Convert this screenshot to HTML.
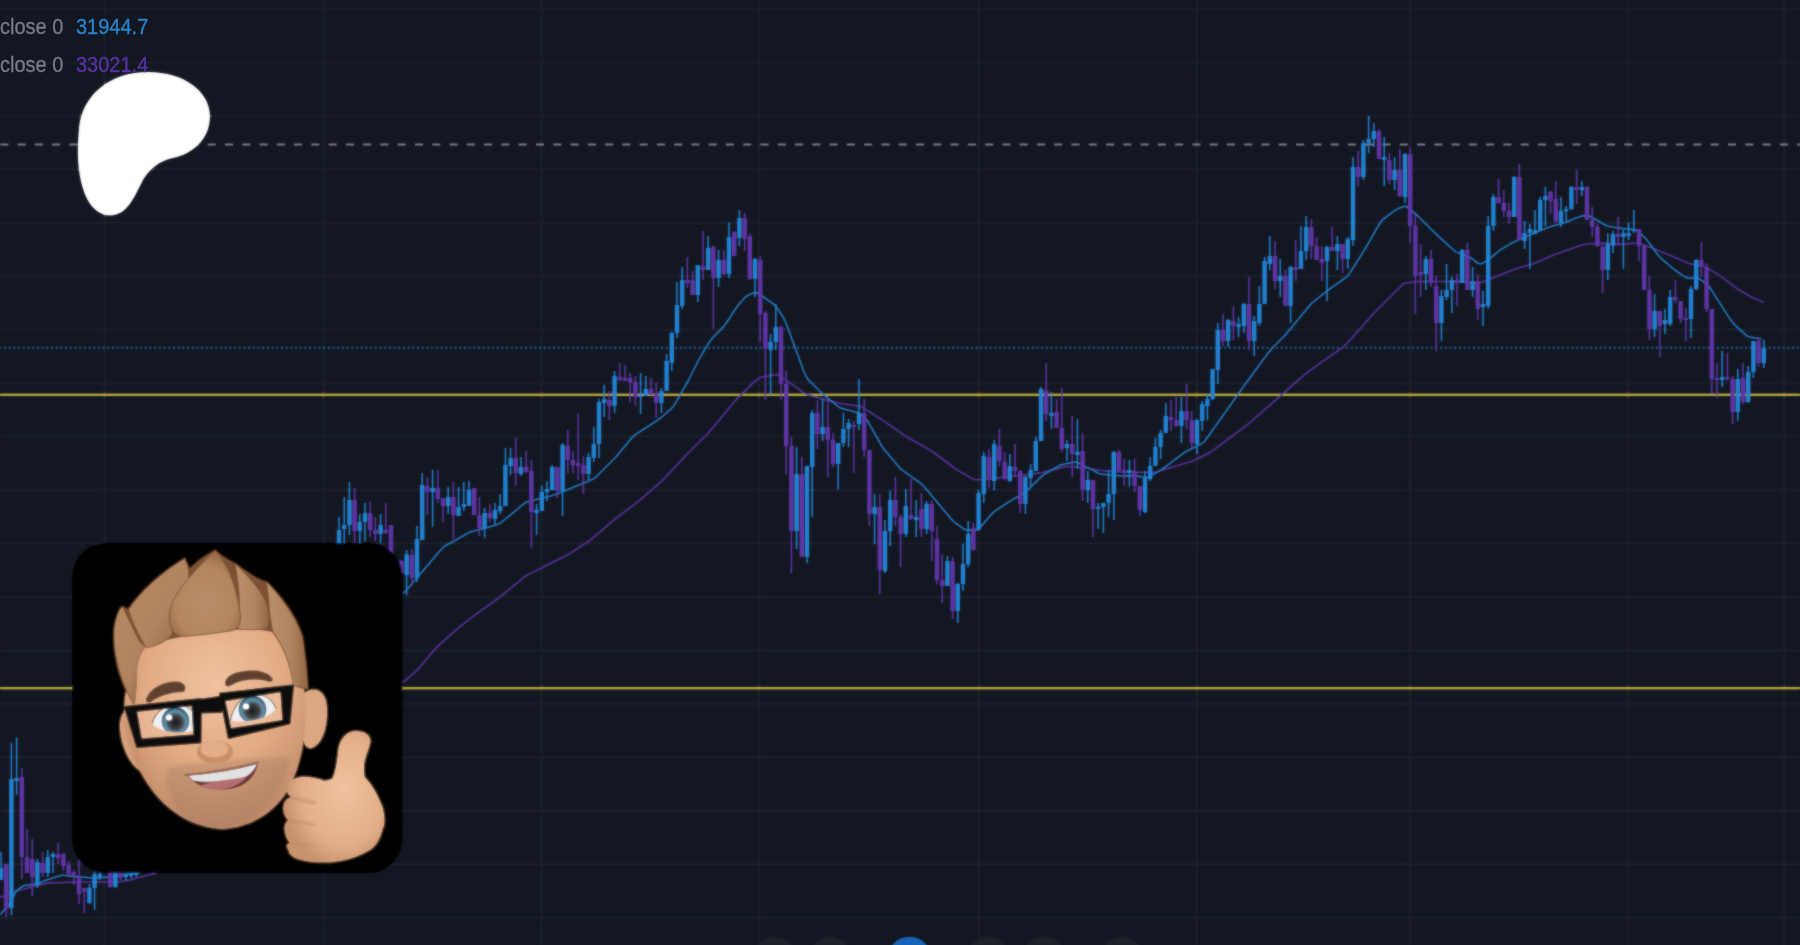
<!DOCTYPE html>
<html><head><meta charset="utf-8"><style>
html,body{margin:0;padding:0;background:#131722;width:1800px;height:945px;overflow:hidden}
.t{position:absolute;font-family:"Liberation Sans",sans-serif;font-size:20px;white-space:pre;transform:scaleY(1.08);transform-origin:0 0;-webkit-text-stroke:0.3px currentColor}
svg{position:absolute;left:0;top:0;}
</style></head><body>
<svg width="1800" height="945" viewBox="0 0 1800 945">
<filter id="soft" x="0" y="0" width="100%" height="100%"><feGaussianBlur in="SourceGraphic" stdDeviation="0.8" result="b"/><feComposite in="SourceGraphic" in2="b" operator="arithmetic" k1="0" k2="0.45" k3="0.55" k4="0"/></filter>
<g filter="url(#soft)">
<rect x="0" y="8.25" width="1800" height="1.5" fill="#1e212c"/>
<rect x="0" y="61.70" width="1800" height="1.5" fill="#1e212c"/>
<rect x="0" y="115.15" width="1800" height="1.5" fill="#1e212c"/>
<rect x="0" y="168.60" width="1800" height="1.5" fill="#1e212c"/>
<rect x="0" y="222.05" width="1800" height="1.5" fill="#1e212c"/>
<rect x="0" y="275.50" width="1800" height="1.5" fill="#1e212c"/>
<rect x="0" y="328.95" width="1800" height="1.5" fill="#1e212c"/>
<rect x="0" y="382.40" width="1800" height="1.5" fill="#1e212c"/>
<rect x="0" y="435.85" width="1800" height="1.5" fill="#1e212c"/>
<rect x="0" y="489.30" width="1800" height="1.5" fill="#1e212c"/>
<rect x="0" y="542.75" width="1800" height="1.5" fill="#1e212c"/>
<rect x="0" y="596.20" width="1800" height="1.5" fill="#1e212c"/>
<rect x="0" y="649.65" width="1800" height="1.5" fill="#1e212c"/>
<rect x="0" y="703.10" width="1800" height="1.5" fill="#1e212c"/>
<rect x="0" y="756.55" width="1800" height="1.5" fill="#1e212c"/>
<rect x="0" y="810.00" width="1800" height="1.5" fill="#1e212c"/>
<rect x="0" y="863.45" width="1800" height="1.5" fill="#1e212c"/>
<rect x="0" y="916.90" width="1800" height="1.5" fill="#1e212c"/>
<rect x="103.75" y="0" width="1.5" height="945" fill="#1e212c"/>
<rect x="322.75" y="0" width="1.5" height="945" fill="#1e212c"/>
<rect x="540.75" y="0" width="1.5" height="945" fill="#1e212c"/>
<rect x="758.25" y="0" width="1.5" height="945" fill="#1e212c"/>
<rect x="977.95" y="0" width="1.5" height="945" fill="#1e212c"/>
<rect x="1195.95" y="0" width="1.5" height="945" fill="#1e212c"/>
<rect x="1409.45" y="0" width="1.5" height="945" fill="#1e212c"/>
<rect x="1627.15" y="0" width="1.5" height="945" fill="#1e212c"/>
<rect x="1783.35" y="0" width="1.5" height="945" fill="#1e212c"/>
<line x1="0" y1="144.6" x2="1800" y2="144.6" stroke="#7b7e88" stroke-width="2" stroke-dasharray="8 9.276" stroke-dashoffset="-0.4"/>
<line x1="0" y1="347.8" x2="1800" y2="347.8" stroke="#1f5c9a" stroke-width="2" stroke-dasharray="2 2.693" stroke-dashoffset="0.67"/>
<rect x="0" y="393.6" width="1800" height="2.4" fill="#b9a838"/>
<rect x="0" y="687" width="1800" height="2.4" fill="#b9a838"/>
<path d="M0.0 897.2 L2.0 896.5 L4.0 895.7 L6.0 894.9 L8.0 894.0 L10.0 893.2 L12.0 892.4 L14.0 891.6 L16.0 891.0 L18.0 890.5 L20.0 890.0 L22.0 889.5 L24.0 889.0 L26.0 888.4 L28.0 887.9 L30.0 887.4 L32.0 886.9 L34.0 886.4 L36.0 885.9 L38.0 885.4 L40.0 884.9 L42.0 884.4 L44.0 883.9 L46.0 883.4 L48.0 883.1 L50.0 882.9 L52.0 882.9 L54.0 882.8 L56.0 882.7 L58.0 882.7 L60.0 882.6 L62.0 882.5 L64.0 882.5 L66.0 882.4 L68.0 882.3 L70.0 882.3 L72.0 882.2 L74.0 882.1 L76.0 882.1 L78.0 882.0 L80.0 882.0 L82.0 882.0 L84.0 882.0 L86.0 882.0 L88.0 882.0 L90.0 882.0 L92.0 882.0 L94.0 882.0 L96.0 882.0 L98.0 882.0 L100.0 882.0 L102.0 882.0 L104.0 882.0 L106.0 882.0 L108.0 882.0 L110.0 881.9 L112.0 881.9 L114.0 881.9 L116.0 881.8 L118.0 881.7 L120.0 881.5 L122.0 881.2 L124.0 880.9 L126.0 880.6 L128.0 880.3 L130.0 879.9 L132.0 879.4 L134.0 878.9 L136.0 878.3 L138.0 877.8 L140.0 877.2 L142.0 876.7 L144.0 876.2 L146.0 875.7 L148.0 875.2 L150.0 874.8 L152.0 874.3 L154.0 873.8 L156.0 873.4 M401.8 683.2 L403.8 681.9 L405.8 680.2 L407.8 678.4 L409.8 676.6 L411.8 674.9 L413.8 673.1 L415.8 671.3 L417.8 669.4 L419.8 667.2 L421.8 664.8 L423.8 662.4 L425.8 660.0 L427.8 657.6 L429.8 655.2 L431.8 652.8 L433.8 650.5 L435.8 648.2 L437.8 646.2 L439.8 644.4 L441.8 642.6 L443.8 640.8 L445.8 639.0 L447.8 637.2 L449.8 635.4 L451.8 633.6 L453.8 631.8 L455.8 630.2 L457.8 628.5 L459.8 626.9 L461.8 625.3 L463.8 623.7 L465.8 622.1 L467.8 620.5 L469.8 618.9 L471.8 617.3 L473.8 615.8 L475.8 614.4 L477.8 613.0 L479.8 611.6 L481.8 610.1 L483.8 608.7 L485.8 607.3 L487.8 605.8 L489.8 604.4 L491.8 603.0 L493.8 601.6 L495.8 600.1 L497.8 598.6 L499.8 597.0 L501.8 595.4 L503.8 593.8 L505.8 592.1 L507.8 590.5 L509.8 588.9 L511.8 587.3 L513.8 585.6 L515.8 584.0 L517.8 582.4 L519.8 580.8 L521.8 579.1 L523.8 577.5 L525.8 576.0 L527.8 574.9 L529.8 573.9 L531.8 572.9 L533.8 571.9 L535.8 570.9 L537.8 569.9 L539.8 568.9 L541.8 567.9 L543.8 566.9 L545.8 565.8 L547.8 564.8 L549.8 563.8 L551.8 562.8 L553.8 561.8 L555.8 560.8 L557.8 559.8 L559.8 558.8 L561.8 557.8 L563.8 556.8 L565.8 555.8 L567.8 554.8 L569.8 553.6 L571.8 552.3 L573.8 551.0 L575.8 549.7 L577.8 548.4 L579.8 547.0 L581.8 545.7 L583.8 544.4 L585.8 543.1 L587.8 541.7 L589.8 540.4 L591.8 538.8 L593.8 537.2 L595.8 535.4 L597.8 533.7 L599.8 532.0 L601.8 530.3 L603.8 528.6 L605.8 526.9 L607.8 525.2 L609.8 523.4 L611.8 521.7 L613.8 520.0 L615.8 518.4 L617.8 516.8 L619.8 515.3 L621.8 513.8 L623.8 512.3 L625.8 510.8 L627.8 509.3 L629.8 507.8 L631.8 506.3 L633.8 504.8 L635.8 503.3 L637.8 501.7 L639.8 500.0 L641.8 498.3 L643.8 496.6 L645.8 494.9 L647.8 493.2 L649.8 491.5 L651.8 489.8 L653.8 488.0 L655.8 486.3 L657.8 484.6 L659.8 482.9 L661.8 481.1 L663.8 479.1 L665.8 477.0 L667.8 474.9 L669.8 472.7 L671.8 470.5 L673.8 468.4 L675.8 466.2 L677.8 464.0 L679.8 461.9 L681.8 459.7 L683.8 457.6 L685.8 455.5 L687.8 453.5 L689.8 451.5 L691.8 449.5 L693.8 447.5 L695.8 445.5 L697.8 443.5 L699.8 441.5 L701.8 439.5 L703.8 437.5 L705.8 435.5 L707.8 433.5 L709.8 431.3 L711.8 429.0 L713.8 426.6 L715.8 424.1 L717.8 421.7 L719.8 419.3 L721.8 416.8 L723.8 414.4 L725.8 412.0 L727.8 409.5 L729.8 407.1 L731.8 404.7 L733.8 402.3 L735.8 400.1 L737.8 398.1 L739.8 396.1 L741.8 394.1 L743.8 392.1 L745.8 390.1 L747.8 388.1 L749.8 386.1 L751.8 384.1 L753.8 382.1 L755.8 380.3 L757.8 378.8 L759.8 377.7 L761.8 377.1 L763.8 376.8 L765.8 376.4 L767.8 376.1 L769.8 375.7 L771.8 375.4 L773.8 375.1 L775.8 374.8 L777.8 374.8 L779.8 375.5 L781.8 376.9 L783.8 378.3 L785.8 379.8 L787.8 381.3 L789.8 382.8 L791.8 384.3 L793.8 385.7 L795.8 387.1 L797.8 388.5 L799.8 389.9 L801.8 391.3 L803.8 392.6 L805.8 393.9 L807.8 394.7 L809.8 395.3 L811.8 395.9 L813.8 396.5 L815.8 397.1 L817.8 397.7 L819.8 398.3 L821.8 398.9 L823.8 399.4 L825.8 399.9 L827.8 400.4 L829.8 400.9 L831.8 401.4 L833.8 401.9 L835.8 402.4 L837.8 402.9 L839.8 403.3 L841.8 403.7 L843.8 404.0 L845.8 404.3 L847.8 404.6 L849.8 404.8 L851.8 405.1 L853.8 405.4 L855.8 405.7 L857.8 406.0 L859.8 406.4 L861.8 407.1 L863.8 408.2 L865.8 409.5 L867.8 410.7 L869.8 412.0 L871.8 413.3 L873.8 414.6 L875.8 415.9 L877.8 417.2 L879.8 418.4 L881.8 419.7 L883.8 421.1 L885.8 422.4 L887.8 423.8 L889.8 425.2 L891.8 426.6 L893.8 428.0 L895.8 429.3 L897.8 430.7 L899.8 432.1 L901.8 433.5 L903.8 434.9 L905.8 436.2 L907.8 437.5 L909.8 438.7 L911.8 439.8 L913.8 440.9 L915.8 442.0 L917.8 443.1 L919.8 444.3 L921.8 445.4 L923.8 446.5 L925.8 447.6 L927.8 448.8 L929.8 449.9 L931.8 451.1 L933.8 452.5 L935.8 454.0 L937.8 455.5 L939.8 457.0 L941.8 458.5 L943.8 460.0 L945.8 461.5 L947.8 463.0 L949.8 464.5 L951.8 466.0 L953.8 467.5 L955.8 469.0 L957.8 470.2 L959.8 471.4 L961.8 472.6 L963.8 473.8 L965.8 474.9 L967.8 476.1 L969.8 477.3 L971.8 478.4 L973.8 479.4 L975.8 479.8 L977.8 479.8 L979.8 479.7 L981.8 479.5 L983.8 479.4 L985.8 479.2 L987.8 479.0 L989.8 478.9 L991.8 478.7 L993.8 478.5 L995.8 478.3 L997.8 478.1 L999.8 477.8 L1001.8 477.6 L1003.8 477.4 L1005.8 477.2 L1007.8 476.9 L1009.8 476.7 L1011.8 476.5 L1013.8 476.3 L1015.8 476.1 L1017.8 475.8 L1019.8 475.6 L1021.8 475.3 L1023.8 475.1 L1025.8 474.8 L1027.8 474.5 L1029.8 474.2 L1031.8 474.0 L1033.8 473.7 L1035.8 473.4 L1037.8 473.1 L1039.8 472.8 L1041.8 472.5 L1043.8 472.1 L1045.8 471.6 L1047.8 471.1 L1049.8 470.6 L1051.8 470.1 L1053.8 469.6 L1055.8 469.1 L1057.8 468.6 L1059.8 468.0 L1061.8 467.5 L1063.8 467.0 L1065.8 466.6 L1067.8 466.5 L1069.8 466.6 L1071.8 466.7 L1073.8 466.9 L1075.8 467.0 L1077.8 467.2 L1079.8 467.4 L1081.8 467.5 L1083.8 467.7 L1085.8 467.9 L1087.8 468.3 L1089.8 468.6 L1091.8 469.0 L1093.8 469.3 L1095.8 469.7 L1097.8 470.0 L1099.8 470.3 L1101.8 470.5 L1103.8 470.7 L1105.8 470.9 L1107.8 471.0 L1109.8 471.2 L1111.8 471.4 L1113.8 471.5 L1115.8 471.7 L1117.8 471.8 L1119.8 472.0 L1121.8 472.1 L1123.8 472.2 L1125.8 472.2 L1127.8 472.2 L1129.8 472.2 L1131.8 472.2 L1133.8 472.2 L1135.8 472.2 L1137.8 472.2 L1139.8 472.2 L1141.8 472.2 L1143.8 472.2 L1145.8 472.2 L1147.8 472.2 L1149.8 472.2 L1151.8 472.2 L1153.8 472.2 L1155.8 472.0 L1157.8 471.5 L1159.8 470.9 L1161.8 470.3 L1163.8 469.7 L1165.8 469.1 L1167.8 468.5 L1169.8 467.9 L1171.8 467.3 L1173.8 466.7 L1175.8 466.1 L1177.8 465.5 L1179.8 464.9 L1181.8 464.3 L1183.8 463.7 L1185.8 463.1 L1187.8 462.5 L1189.8 461.9 L1191.8 461.3 L1193.8 460.5 L1195.8 459.5 L1197.8 458.5 L1199.8 457.5 L1201.8 456.5 L1203.8 455.5 L1205.8 454.5 L1207.8 453.5 L1209.8 452.5 L1211.8 451.3 L1213.8 449.9 L1215.8 448.4 L1217.8 446.9 L1219.8 445.4 L1221.8 443.9 L1223.8 442.4 L1225.8 440.9 L1227.8 439.4 L1229.8 437.8 L1231.8 436.3 L1233.8 434.8 L1235.8 433.3 L1237.8 431.8 L1239.8 430.3 L1241.8 428.8 L1243.8 427.3 L1245.8 425.8 L1247.8 424.3 L1249.8 422.6 L1251.8 420.9 L1253.8 419.1 L1255.8 417.4 L1257.8 415.6 L1259.8 413.9 L1261.8 412.1 L1263.8 410.4 L1265.8 408.6 L1267.8 406.9 L1269.8 405.1 L1271.8 403.4 L1273.8 401.6 L1275.8 399.9 L1277.8 398.1 L1279.8 396.4 L1281.8 394.6 L1283.8 392.9 L1285.8 391.1 L1287.8 389.4 L1289.8 387.6 L1291.8 385.9 L1293.8 384.1 L1295.8 382.4 L1297.8 380.6 L1299.8 378.9 L1301.8 377.1 L1303.8 375.4 L1305.8 373.6 L1307.8 372.0 L1309.8 370.5 L1311.8 369.1 L1313.8 367.7 L1315.8 366.3 L1317.8 364.9 L1319.8 363.5 L1321.8 362.1 L1323.8 360.7 L1325.8 359.3 L1327.8 357.9 L1329.8 356.5 L1331.8 355.1 L1333.8 353.7 L1335.8 352.3 L1337.8 350.9 L1339.8 349.5 L1341.8 348.1 L1343.8 346.6 L1345.8 344.6 L1347.8 342.5 L1349.8 340.2 L1351.8 338.0 L1353.8 335.8 L1355.8 333.5 L1357.8 331.3 L1359.8 329.0 L1361.8 326.8 L1363.8 324.5 L1365.8 322.3 L1367.8 320.1 L1369.8 317.8 L1371.8 315.6 L1373.8 313.4 L1375.8 311.3 L1377.8 309.3 L1379.8 307.3 L1381.8 305.3 L1383.8 303.3 L1385.8 301.3 L1387.8 299.3 L1389.8 297.2 L1391.8 295.2 L1393.8 293.2 L1395.8 291.2 L1397.8 289.2 L1399.8 287.2 L1401.8 285.3 L1403.8 283.7 L1405.8 283.1 L1407.8 282.8 L1409.8 282.6 L1411.8 282.3 L1413.8 282.1 L1415.8 281.8 L1417.8 281.6 L1419.8 281.5 L1421.8 281.5 L1423.8 281.5 L1425.8 281.5 L1427.8 281.5 L1429.8 281.5 L1431.8 281.5 L1433.8 281.5 L1435.8 281.5 L1437.8 281.5 L1439.8 281.5 L1441.8 281.5 L1443.8 281.5 L1445.8 281.5 L1447.8 281.5 L1449.8 281.5 L1451.8 281.5 L1453.8 281.6 L1455.8 281.7 L1457.8 281.8 L1459.8 281.9 L1461.8 282.1 L1463.8 282.2 L1465.8 282.3 L1467.8 282.4 L1469.8 282.5 L1471.8 282.6 L1473.8 282.7 L1475.8 282.9 L1477.8 283.0 L1479.8 282.9 L1481.8 282.3 L1483.8 281.5 L1485.8 280.7 L1487.8 279.9 L1489.8 279.1 L1491.8 278.3 L1493.8 277.4 L1495.8 276.6 L1497.8 275.8 L1499.8 275.1 L1501.8 274.3 L1503.8 273.5 L1505.8 272.7 L1507.8 271.9 L1509.8 271.1 L1511.8 270.3 L1513.8 269.6 L1515.8 268.8 L1517.8 268.2 L1519.8 267.6 L1521.8 267.0 L1523.8 266.4 L1525.8 265.9 L1527.8 265.3 L1529.8 264.7 L1531.8 264.2 L1533.8 263.5 L1535.8 262.7 L1537.8 261.8 L1539.8 261.0 L1541.8 260.1 L1543.8 259.2 L1545.8 258.3 L1547.8 257.5 L1549.8 256.6 L1551.8 255.7 L1553.8 254.9 L1555.8 254.2 L1557.8 253.5 L1559.8 252.8 L1561.8 252.0 L1563.8 251.3 L1565.8 250.6 L1567.8 249.9 L1569.8 249.2 L1571.8 248.5 L1573.8 247.8 L1575.8 247.2 L1577.8 246.5 L1579.8 245.8 L1581.8 245.1 L1583.8 244.6 L1585.8 244.2 L1587.8 244.0 L1589.8 243.8 L1591.8 243.7 L1593.8 243.6 L1595.8 243.4 L1597.8 243.3 L1599.8 243.1 L1601.8 243.1 L1603.8 243.1 L1605.8 243.3 L1607.8 243.4 L1609.8 243.5 L1611.8 243.6 L1613.8 243.7 L1615.8 243.9 L1617.8 244.0 L1619.8 244.1 L1621.8 244.1 L1623.8 244.0 L1625.8 243.9 L1627.8 243.7 L1629.8 243.6 L1631.8 243.4 L1633.8 243.3 L1635.8 243.2 L1637.8 243.2 L1639.8 243.6 L1641.8 244.3 L1643.8 245.0 L1645.8 245.7 L1647.8 246.4 L1649.8 247.2 L1651.8 247.9 L1653.8 248.6 L1655.8 249.4 L1657.8 250.2 L1659.8 251.0 L1661.8 251.9 L1663.8 252.7 L1665.8 253.5 L1667.8 254.4 L1669.8 255.2 L1671.8 256.1 L1673.8 257.0 L1675.8 257.8 L1677.8 258.7 L1679.8 259.6 L1681.8 260.5 L1683.8 261.3 L1685.8 262.2 L1687.8 263.0 L1689.8 263.7 L1691.8 264.1 L1693.8 264.5 L1695.8 264.8 L1697.8 265.1 L1699.8 265.4 L1701.8 265.8 L1703.8 266.3 L1705.8 267.3 L1707.8 268.4 L1709.8 269.6 L1711.8 270.8 L1713.8 271.9 L1715.8 273.1 L1717.8 274.3 L1719.8 275.7 L1721.8 277.1 L1723.8 278.6 L1725.8 280.1 L1727.8 281.6 L1729.8 283.1 L1731.8 284.6 L1733.8 286.1 L1735.8 287.6 L1737.8 289.0 L1739.8 290.3 L1741.8 291.5 L1743.8 292.6 L1745.8 293.8 L1747.8 295.0 L1749.8 296.1 L1751.8 297.2 L1753.8 298.2 L1755.8 299.0 L1757.8 299.8 L1759.8 300.6 L1761.8 301.4 L1763.8 302.0" fill="none" stroke="#55309e" stroke-width="1.6"/>
<path d="M0.0 914.4 L2.0 912.6 L4.0 910.3 L6.0 908.0 L8.0 905.7 L10.0 903.3 L12.0 900.1 L14.0 895.6 L16.0 891.6 L18.0 889.5 L20.0 888.1 L22.0 886.8 L24.0 885.8 L26.0 885.3 L28.0 885.0 L30.0 884.8 L32.0 884.5 L34.0 884.2 L36.0 883.9 L38.0 883.2 L40.0 882.5 L42.0 881.8 L44.0 881.0 L46.0 880.3 L48.0 879.5 L50.0 878.9 L52.0 878.2 L54.0 877.6 L56.0 876.9 L58.0 876.3 L60.0 875.7 L62.0 875.2 L64.0 875.3 L66.0 875.5 L68.0 875.7 L70.0 875.9 L72.0 876.2 L74.0 876.4 L76.0 876.6 L78.0 876.9 L80.0 877.0 L82.0 877.2 L84.0 877.3 L86.0 877.4 L88.0 877.6 L90.0 877.7 L92.0 877.8 L94.0 877.9 L96.0 877.9 L98.0 877.8 L100.0 877.7 L102.0 877.5 L104.0 877.4 L106.0 877.3 L108.0 877.1 L110.0 877.0 L112.0 876.7 L114.0 876.4 L116.0 876.1 L118.0 875.8 L120.0 875.5 L122.0 875.2 L124.0 874.9 L126.0 874.6 L128.0 874.3 L130.0 874.0 L132.0 873.7 L134.0 873.4 L136.0 873.1 L138.0 872.8 L140.0 872.5 L142.0 872.2 M403.6 593.1 L405.6 591.3 L407.6 589.0 L409.6 586.6 L411.6 584.2 L413.6 581.8 L415.6 579.4 L417.6 577.0 L419.6 574.6 L421.6 572.2 L423.6 569.9 L425.6 567.5 L427.6 565.2 L429.6 562.9 L431.6 560.5 L433.6 558.2 L435.6 555.9 L437.6 553.5 L439.6 551.2 L441.6 549.0 L443.6 547.0 L445.6 545.7 L447.6 544.5 L449.6 543.4 L451.6 542.3 L453.6 541.2 L455.6 540.1 L457.6 539.0 L459.6 537.9 L461.6 536.7 L463.6 535.6 L465.6 534.5 L467.6 533.4 L469.6 532.3 L471.6 531.5 L473.6 530.9 L475.6 530.4 L477.6 530.0 L479.6 529.5 L481.6 529.0 L483.6 528.6 L485.6 528.1 L487.6 527.5 L489.6 526.8 L491.6 526.2 L493.6 525.6 L495.6 524.9 L497.6 524.3 L499.6 523.4 L501.6 522.1 L503.6 520.5 L505.6 518.9 L507.6 517.2 L509.6 515.6 L511.6 513.9 L513.6 512.3 L515.6 510.6 L517.6 509.0 L519.6 507.3 L521.6 505.7 L523.6 504.0 L525.6 502.6 L527.6 501.7 L529.6 501.2 L531.6 500.7 L533.6 500.2 L535.6 499.7 L537.6 499.2 L539.6 498.7 L541.6 498.2 L543.6 497.7 L545.6 497.2 L547.6 496.7 L549.6 496.2 L551.6 495.7 L553.6 495.1 L555.6 494.5 L557.6 493.7 L559.6 492.9 L561.6 492.1 L563.6 491.2 L565.6 490.4 L567.6 489.6 L569.6 488.8 L571.6 488.0 L573.6 487.1 L575.6 486.3 L577.6 485.5 L579.6 484.7 L581.6 483.9 L583.6 483.0 L585.6 482.2 L587.6 481.4 L589.6 480.6 L591.6 479.7 L593.6 478.7 L595.6 477.2 L597.6 475.3 L599.6 473.3 L601.6 471.3 L603.6 469.3 L605.6 467.3 L607.6 465.3 L609.6 463.3 L611.6 461.3 L613.6 459.3 L615.6 457.2 L617.6 454.9 L619.6 452.5 L621.6 450.1 L623.6 447.7 L625.6 445.3 L627.6 442.9 L629.6 440.5 L631.6 438.2 L633.6 436.0 L635.6 434.4 L637.6 433.1 L639.6 431.8 L641.6 430.5 L643.6 429.2 L645.6 428.0 L647.6 426.7 L649.6 425.4 L651.6 424.1 L653.6 422.8 L655.6 421.6 L657.6 420.2 L659.6 418.8 L661.6 417.1 L663.6 415.4 L665.6 413.6 L667.6 411.9 L669.6 410.1 L671.6 408.3 L673.6 406.0 L675.6 402.9 L677.6 399.4 L679.6 395.9 L681.6 392.4 L683.6 388.9 L685.6 385.4 L687.6 381.8 L689.6 378.0 L691.6 374.0 L693.6 370.0 L695.6 366.0 L697.6 362.1 L699.6 358.4 L701.6 354.9 L703.6 351.5 L705.6 348.1 L707.6 344.8 L709.6 341.7 L711.6 339.1 L713.6 336.9 L715.6 334.8 L717.6 332.7 L719.6 330.7 L721.6 328.6 L723.6 326.4 L725.6 323.9 L727.6 321.0 L729.6 318.0 L731.6 314.9 L733.6 311.8 L735.6 308.8 L737.6 306.0 L739.6 303.5 L741.6 301.3 L743.6 299.0 L745.6 297.0 L747.6 295.7 L749.6 294.6 L751.6 293.7 L753.6 292.9 L755.6 292.6 L757.6 293.3 L759.6 294.4 L761.6 295.7 L763.6 297.0 L765.6 298.5 L767.6 299.9 L769.6 301.3 L771.6 302.7 L773.6 304.2 L775.6 306.1 L777.6 308.8 L779.6 311.8 L781.6 314.8 L783.6 318.1 L785.6 322.3 L787.6 327.4 L789.6 332.7 L791.6 338.0 L793.6 343.4 L795.6 348.8 L797.6 354.3 L799.6 359.8 L801.6 365.3 L803.6 370.7 L805.6 375.5 L807.6 378.7 L809.6 381.0 L811.6 383.0 L813.6 385.0 L815.6 387.0 L817.6 389.0 L819.6 391.0 L821.6 392.9 L823.6 394.6 L825.6 396.3 L827.6 397.9 L829.6 399.6 L831.6 401.2 L833.6 402.9 L835.6 404.5 L837.6 406.2 L839.6 407.5 L841.6 408.4 L843.6 408.9 L845.6 409.4 L847.6 410.0 L849.6 410.5 L851.6 411.0 L853.6 411.5 L855.6 412.0 L857.6 412.7 L859.6 413.9 L861.6 415.5 L863.6 417.1 L865.6 418.9 L867.6 421.1 L869.6 424.3 L871.6 427.9 L873.6 431.5 L875.6 435.1 L877.6 438.7 L879.6 442.3 L881.6 445.7 L883.6 448.7 L885.6 451.3 L887.6 453.6 L889.6 456.0 L891.6 458.3 L893.6 460.6 L895.6 463.0 L897.6 465.3 L899.6 467.6 L901.6 469.6 L903.6 471.2 L905.6 472.6 L907.6 474.0 L909.6 475.4 L911.6 476.9 L913.6 478.3 L915.6 479.7 L917.6 481.1 L919.6 482.6 L921.6 484.1 L923.6 486.0 L925.6 488.3 L927.6 490.7 L929.6 493.1 L931.6 495.5 L933.6 497.9 L935.6 500.3 L937.6 502.7 L939.6 505.1 L941.6 507.5 L943.6 509.9 L945.6 512.3 L947.6 514.7 L949.6 517.1 L951.6 519.4 L953.6 521.5 L955.6 523.1 L957.6 524.5 L959.6 525.9 L961.6 527.3 L963.6 528.7 L965.6 529.7 L967.6 530.1 L969.6 530.1 L971.6 530.1 L973.6 530.1 L975.6 530.1 L977.6 529.5 L979.6 527.9 L981.6 525.7 L983.6 523.4 L985.6 521.0 L987.6 518.7 L989.6 516.4 L991.6 514.1 L993.6 512.2 L995.6 510.7 L997.6 509.3 L999.6 508.0 L1001.6 506.7 L1003.6 505.3 L1005.6 504.0 L1007.6 502.7 L1009.6 501.4 L1011.6 500.1 L1013.6 499.0 L1015.6 498.0 L1017.6 497.0 L1019.6 496.0 L1021.6 495.0 L1023.6 493.8 L1025.6 492.1 L1027.6 490.1 L1029.6 488.1 L1031.6 486.1 L1033.6 484.1 L1035.6 482.1 L1037.6 480.1 L1039.6 478.1 L1041.6 476.3 L1043.6 474.8 L1045.6 473.5 L1047.6 472.4 L1049.6 471.2 L1051.6 470.0 L1053.6 468.9 L1055.6 467.7 L1057.6 466.6 L1059.6 465.5 L1061.6 464.7 L1063.6 464.2 L1065.6 463.8 L1067.6 463.4 L1069.6 463.0 L1071.6 462.6 L1073.6 462.2 L1075.6 462.1 L1077.6 462.6 L1079.6 463.6 L1081.6 464.6 L1083.6 465.5 L1085.6 466.6 L1087.6 467.6 L1089.6 468.6 L1091.6 469.6 L1093.6 470.6 L1095.6 471.7 L1097.6 472.8 L1099.6 473.7 L1101.6 474.2 L1103.6 474.4 L1105.6 474.6 L1107.6 474.7 L1109.6 474.9 L1111.6 475.0 L1113.6 475.2 L1115.6 475.4 L1117.6 475.5 L1119.6 475.7 L1121.6 475.8 L1123.6 475.9 L1125.6 475.9 L1127.6 475.9 L1129.6 475.9 L1131.6 475.9 L1133.6 475.9 L1135.6 475.9 L1137.6 476.1 L1139.6 476.4 L1141.6 476.7 L1143.6 477.0 L1145.6 477.3 L1147.6 477.4 L1149.6 476.7 L1151.6 475.6 L1153.6 474.4 L1155.6 473.1 L1157.6 471.9 L1159.6 470.6 L1161.6 469.3 L1163.6 468.0 L1165.6 466.6 L1167.6 465.1 L1169.6 463.6 L1171.6 462.1 L1173.6 460.6 L1175.6 459.1 L1177.6 457.6 L1179.6 456.1 L1181.6 454.6 L1183.6 453.1 L1185.6 451.8 L1187.6 450.7 L1189.6 449.7 L1191.6 448.7 L1193.6 447.7 L1195.6 446.7 L1197.6 445.7 L1199.6 444.7 L1201.6 443.6 L1203.6 442.2 L1205.6 439.9 L1207.6 437.1 L1209.6 434.3 L1211.6 431.5 L1213.6 428.7 L1215.6 425.9 L1217.6 423.1 L1219.6 420.3 L1221.6 417.5 L1223.6 414.7 L1225.6 411.9 L1227.6 409.0 L1229.6 406.2 L1231.6 403.4 L1233.6 400.5 L1235.6 397.7 L1237.6 394.8 L1239.6 392.0 L1241.6 389.2 L1243.6 386.4 L1245.6 383.6 L1247.6 380.9 L1249.6 378.2 L1251.6 375.5 L1253.6 372.7 L1255.6 370.0 L1257.6 367.3 L1259.6 364.6 L1261.6 361.9 L1263.6 359.2 L1265.6 356.5 L1267.6 353.8 L1269.6 351.2 L1271.6 348.9 L1273.6 346.8 L1275.6 344.8 L1277.6 342.8 L1279.6 340.8 L1281.6 338.8 L1283.6 336.8 L1285.6 334.6 L1287.6 332.3 L1289.6 329.8 L1291.6 327.4 L1293.6 325.0 L1295.6 322.6 L1297.6 320.1 L1299.6 317.7 L1301.6 315.3 L1303.6 312.8 L1305.6 310.4 L1307.6 308.0 L1309.6 305.6 L1311.6 303.5 L1313.6 301.7 L1315.6 300.1 L1317.6 298.5 L1319.6 296.9 L1321.6 295.3 L1323.6 293.7 L1325.6 292.1 L1327.6 290.5 L1329.6 289.0 L1331.6 287.5 L1333.6 286.1 L1335.6 284.7 L1337.6 283.3 L1339.6 281.9 L1341.6 280.5 L1343.6 279.1 L1345.6 277.6 L1347.6 275.9 L1349.6 273.4 L1351.6 270.3 L1353.6 267.1 L1355.6 264.0 L1357.6 260.8 L1359.6 257.6 L1361.6 254.4 L1363.6 251.2 L1365.6 248.0 L1367.6 244.7 L1369.6 241.2 L1371.6 237.7 L1373.6 234.2 L1375.6 230.7 L1377.6 227.2 L1379.6 223.8 L1381.6 220.8 L1383.6 218.9 L1385.6 217.3 L1387.6 215.8 L1389.6 214.3 L1391.6 212.8 L1393.6 211.3 L1395.6 210.0 L1397.6 208.9 L1399.6 208.0 L1401.6 207.2 L1403.6 206.5 L1405.6 206.3 L1407.6 207.3 L1409.6 208.8 L1411.6 210.4 L1413.6 212.1 L1415.6 213.9 L1417.6 215.8 L1419.6 217.8 L1421.6 219.8 L1423.6 221.8 L1425.6 223.8 L1427.6 225.8 L1429.6 227.8 L1431.6 229.8 L1433.6 231.7 L1435.6 233.6 L1437.6 235.4 L1439.6 237.3 L1441.6 239.1 L1443.6 240.9 L1445.6 242.8 L1447.6 244.6 L1449.6 246.4 L1451.6 248.2 L1453.6 250.0 L1455.6 251.6 L1457.6 252.6 L1459.6 253.4 L1461.6 254.1 L1463.6 254.9 L1465.6 255.6 L1467.6 256.4 L1469.6 257.2 L1471.6 258.4 L1473.6 259.9 L1475.6 261.5 L1477.6 263.0 L1479.6 264.0 L1481.6 263.7 L1483.6 262.6 L1485.6 261.4 L1487.6 260.1 L1489.6 258.7 L1491.6 257.1 L1493.6 255.4 L1495.6 253.7 L1497.6 252.0 L1499.6 250.4 L1501.6 249.1 L1503.6 247.9 L1505.6 246.7 L1507.6 245.6 L1509.6 244.4 L1511.6 243.3 L1513.6 242.2 L1515.6 241.2 L1517.6 240.3 L1519.6 239.5 L1521.6 238.7 L1523.6 237.8 L1525.6 237.0 L1527.6 236.2 L1529.6 235.3 L1531.6 234.4 L1533.6 233.6 L1535.6 232.7 L1537.6 231.8 L1539.6 230.9 L1541.6 230.0 L1543.6 229.2 L1545.6 228.3 L1547.6 227.5 L1549.6 226.9 L1551.6 226.3 L1553.6 225.8 L1555.6 225.3 L1557.6 224.8 L1559.6 224.3 L1561.6 223.7 L1563.6 223.1 L1565.6 222.3 L1567.6 221.5 L1569.6 220.6 L1571.6 219.8 L1573.6 218.9 L1575.6 218.1 L1577.6 217.4 L1579.6 216.8 L1581.6 216.3 L1583.6 215.9 L1585.6 215.5 L1587.6 215.6 L1589.6 216.3 L1591.6 217.3 L1593.6 218.3 L1595.6 219.3 L1597.6 220.4 L1599.6 221.7 L1601.6 222.9 L1603.6 224.2 L1605.6 225.3 L1607.6 226.1 L1609.6 226.5 L1611.6 226.8 L1613.6 227.2 L1615.6 227.5 L1617.6 227.8 L1619.6 228.1 L1621.6 228.4 L1623.6 228.6 L1625.6 228.8 L1627.6 228.9 L1629.6 229.1 L1631.6 229.3 L1633.6 229.5 L1635.6 230.0 L1637.6 231.3 L1639.6 233.0 L1641.6 234.7 L1643.6 236.5 L1645.6 238.5 L1647.6 240.9 L1649.6 243.6 L1651.6 246.3 L1653.6 249.0 L1655.6 251.7 L1657.6 254.4 L1659.6 256.8 L1661.6 258.9 L1663.6 260.6 L1665.6 262.3 L1667.6 264.0 L1669.6 265.6 L1671.6 267.3 L1673.6 268.9 L1675.6 270.5 L1677.6 271.9 L1679.6 273.3 L1681.6 274.7 L1683.6 276.1 L1685.6 277.3 L1687.6 278.1 L1689.6 278.3 L1691.6 278.3 L1693.6 278.3 L1695.6 278.3 L1697.6 278.4 L1699.6 279.0 L1701.6 280.3 L1703.6 281.8 L1705.6 283.3 L1707.6 285.0 L1709.6 287.3 L1711.6 290.2 L1713.6 293.4 L1715.6 296.6 L1717.6 299.8 L1719.6 302.9 L1721.6 306.0 L1723.6 309.1 L1725.6 312.1 L1727.6 315.1 L1729.6 318.1 L1731.6 321.1 L1733.6 323.6 L1735.6 325.7 L1737.6 327.5 L1739.6 329.4 L1741.6 331.2 L1743.6 333.0 L1745.6 334.8 L1747.6 336.3 L1749.6 337.0 L1751.6 337.3 L1753.6 337.6 L1755.6 337.9 L1757.6 338.2 L1759.6 338.5 L1761.6 338.7" fill="none" stroke="#2179c2" stroke-width="1.6"/>
<path d="M5.45 864.0h1.5V917.0h-1.5Z M4.00 864.0h4.4V909.0h-4.4Z M21.05 768.0h1.5V879.0h-1.5Z M19.60 777.0h4.4V857.0h-4.4Z M26.25 829.0h1.5V873.0h-1.5Z M24.80 857.0h4.4V873.0h-4.4Z M31.45 839.0h1.5V896.0h-1.5Z M30.00 859.0h4.4V877.0h-4.4Z M41.85 852.0h1.5V877.0h-1.5Z M40.40 863.0h4.4V873.0h-4.4Z M57.45 843.0h1.5V864.0h-1.5Z M56.00 854.0h4.4V858.0h-4.4Z M62.65 853.0h1.5V871.0h-1.5Z M61.20 854.0h4.4V866.0h-4.4Z M67.85 861.0h1.5V877.0h-1.5Z M66.40 865.0h4.4V874.0h-4.4Z M73.05 870.0h1.5V885.0h-1.5Z M71.60 872.0h4.4V875.0h-4.4Z M78.25 860.0h1.5V904.0h-1.5Z M76.80 877.0h4.4V894.0h-4.4Z M83.45 888.0h1.5V913.0h-1.5Z M82.00 888.0h4.4V892.0h-4.4Z M109.45 873.0h1.5V888.0h-1.5Z M108.00 873.0h4.4V887.0h-4.4Z M119.85 873.0h1.5V880.0h-1.5Z M118.40 873.0h4.4V878.0h-4.4Z M353.85 488.0h1.5V543.0h-1.5Z M352.40 500.0h4.4V531.0h-4.4Z M369.45 502.0h1.5V537.0h-1.5Z M368.00 513.0h4.4V530.0h-4.4Z M374.65 517.0h1.5V541.0h-1.5Z M373.20 530.0h4.4V534.0h-4.4Z M385.05 503.0h1.5V534.0h-1.5Z M383.60 530.0h4.4V533.0h-4.4Z M390.25 525.0h1.5V556.0h-1.5Z M388.80 525.0h4.4V556.0h-4.4Z M395.45 575.0h1.5V595.0h-1.5Z M394.00 578.0h4.4V590.0h-4.4Z M400.65 560.0h1.5V581.0h-1.5Z M399.20 561.0h4.4V573.0h-4.4Z M411.05 549.0h1.5V586.0h-1.5Z M409.60 555.0h4.4V578.0h-4.4Z M426.65 477.0h1.5V515.0h-1.5Z M425.20 486.0h4.4V492.0h-4.4Z M437.05 470.0h1.5V503.0h-1.5Z M435.60 488.0h4.4V499.0h-4.4Z M442.25 498.0h1.5V522.0h-1.5Z M440.80 498.0h4.4V506.0h-4.4Z M452.65 482.0h1.5V539.0h-1.5Z M451.20 497.0h4.4V515.0h-4.4Z M473.45 488.0h1.5V515.0h-1.5Z M472.00 488.0h4.4V515.0h-4.4Z M478.65 497.0h1.5V536.0h-1.5Z M477.20 515.0h4.4V528.0h-4.4Z M489.05 504.0h1.5V522.0h-1.5Z M487.60 513.0h4.4V518.0h-4.4Z M515.05 438.0h1.5V486.0h-1.5Z M513.60 458.0h4.4V473.0h-4.4Z M525.45 451.0h1.5V473.0h-1.5Z M524.00 467.0h4.4V472.0h-4.4Z M530.65 460.0h1.5V548.0h-1.5Z M529.20 471.0h4.4V512.0h-4.4Z M556.65 467.0h1.5V498.0h-1.5Z M555.20 467.0h4.4V491.0h-4.4Z M567.05 430.0h1.5V473.0h-1.5Z M565.60 446.0h4.4V460.0h-4.4Z M572.25 451.0h1.5V473.0h-1.5Z M570.80 460.0h4.4V465.0h-4.4Z M577.45 414.0h1.5V480.0h-1.5Z M576.00 463.0h4.4V466.0h-4.4Z M582.65 456.0h1.5V494.0h-1.5Z M581.20 465.0h4.4V474.0h-4.4Z M608.65 391.0h1.5V420.0h-1.5Z M607.20 400.0h4.4V406.0h-4.4Z M619.05 363.0h1.5V381.0h-1.5Z M617.60 377.0h4.4V380.0h-4.4Z M624.25 365.0h1.5V381.0h-1.5Z M622.80 378.0h4.4V381.0h-4.4Z M629.45 373.0h1.5V402.0h-1.5Z M628.00 378.0h4.4V382.0h-4.4Z M634.65 376.0h1.5V406.0h-1.5Z M633.20 382.0h4.4V397.0h-4.4Z M650.25 378.0h1.5V395.0h-1.5Z M648.80 389.0h4.4V395.0h-4.4Z M655.45 383.0h1.5V418.0h-1.5Z M654.00 394.0h4.4V403.0h-4.4Z M686.65 257.0h1.5V288.0h-1.5Z M685.20 280.0h4.4V283.0h-4.4Z M691.85 271.0h1.5V295.0h-1.5Z M690.40 280.0h4.4V295.0h-4.4Z M702.25 231.0h1.5V280.0h-1.5Z M700.80 266.0h4.4V270.0h-4.4Z M712.65 246.0h1.5V329.0h-1.5Z M711.20 247.0h4.4V278.0h-4.4Z M723.05 250.0h1.5V275.0h-1.5Z M721.60 260.0h4.4V274.0h-4.4Z M733.45 231.0h1.5V256.0h-1.5Z M732.00 232.0h4.4V256.0h-4.4Z M743.85 213.0h1.5V251.0h-1.5Z M742.40 218.0h4.4V239.0h-4.4Z M749.05 233.0h1.5V280.0h-1.5Z M747.60 236.0h4.4V279.0h-4.4Z M759.45 256.0h1.5V342.0h-1.5Z M758.00 260.0h4.4V314.0h-4.4Z M764.65 311.0h1.5V400.0h-1.5Z M763.20 313.0h4.4V349.0h-4.4Z M780.25 326.0h1.5V400.0h-1.5Z M778.80 327.0h4.4V384.0h-4.4Z M785.45 371.0h1.5V474.0h-1.5Z M784.00 384.0h4.4V446.0h-4.4Z M790.65 437.0h1.5V573.0h-1.5Z M789.20 446.0h4.4V531.0h-4.4Z M801.05 457.0h1.5V557.0h-1.5Z M799.60 474.0h4.4V557.0h-4.4Z M816.65 400.0h1.5V449.0h-1.5Z M815.20 413.0h4.4V434.0h-4.4Z M827.05 400.0h1.5V477.0h-1.5Z M825.60 427.0h4.4V440.0h-4.4Z M832.25 433.0h1.5V467.0h-1.5Z M830.80 440.0h4.4V464.0h-4.4Z M853.05 421.0h1.5V473.0h-1.5Z M851.60 425.0h4.4V427.0h-4.4Z M863.45 399.0h1.5V457.0h-1.5Z M862.00 413.0h4.4V450.0h-4.4Z M868.65 450.0h1.5V526.0h-1.5Z M867.20 450.0h4.4V514.0h-4.4Z M879.05 494.0h1.5V594.0h-1.5Z M877.60 507.0h4.4V570.0h-4.4Z M894.65 477.0h1.5V526.0h-1.5Z M893.20 500.0h4.4V517.0h-4.4Z M899.85 514.0h1.5V567.0h-1.5Z M898.40 517.0h4.4V534.0h-4.4Z M910.25 479.0h1.5V520.0h-1.5Z M908.80 515.0h4.4V519.0h-4.4Z M920.65 493.0h1.5V537.0h-1.5Z M919.20 509.0h4.4V529.0h-4.4Z M931.05 501.0h1.5V561.0h-1.5Z M929.60 504.0h4.4V531.0h-4.4Z M936.25 526.0h1.5V584.0h-1.5Z M934.80 539.0h4.4V580.0h-4.4Z M941.45 554.0h1.5V603.0h-1.5Z M940.00 580.0h4.4V586.0h-4.4Z M951.85 557.0h1.5V619.0h-1.5Z M950.40 561.0h4.4V611.0h-4.4Z M972.65 523.0h1.5V551.0h-1.5Z M971.20 528.0h4.4V550.0h-4.4Z M988.25 449.0h1.5V488.0h-1.5Z M986.80 457.0h4.4V479.0h-4.4Z M998.65 429.0h1.5V466.0h-1.5Z M997.20 446.0h4.4V461.0h-4.4Z M1003.85 452.0h1.5V480.0h-1.5Z M1002.40 462.0h4.4V479.0h-4.4Z M1014.25 444.0h1.5V477.0h-1.5Z M1012.80 467.0h4.4V471.0h-4.4Z M1019.45 470.0h1.5V513.0h-1.5Z M1018.00 471.0h4.4V504.0h-4.4Z M1045.45 363.0h1.5V421.0h-1.5Z M1044.00 390.0h4.4V414.0h-4.4Z M1055.85 399.0h1.5V428.0h-1.5Z M1054.40 412.0h4.4V428.0h-4.4Z M1061.05 388.0h1.5V452.0h-1.5Z M1059.60 428.0h4.4V449.0h-4.4Z M1071.45 416.0h1.5V477.0h-1.5Z M1070.00 444.0h4.4V454.0h-4.4Z M1081.85 433.0h1.5V501.0h-1.5Z M1080.40 451.0h4.4V490.0h-4.4Z M1092.25 480.0h1.5V537.0h-1.5Z M1090.80 480.0h4.4V509.0h-4.4Z M1118.25 450.0h1.5V471.0h-1.5Z M1116.80 452.0h4.4V471.0h-4.4Z M1123.45 459.0h1.5V486.0h-1.5Z M1122.00 470.0h4.4V473.0h-4.4Z M1133.85 459.0h1.5V492.0h-1.5Z M1132.40 471.0h4.4V486.0h-4.4Z M1139.05 486.0h1.5V516.0h-1.5Z M1137.60 486.0h4.4V510.0h-4.4Z M1170.25 400.0h1.5V431.0h-1.5Z M1168.80 417.0h4.4V420.0h-4.4Z M1175.45 397.0h1.5V427.0h-1.5Z M1174.00 420.0h4.4V426.0h-4.4Z M1185.85 384.0h1.5V429.0h-1.5Z M1184.40 411.0h4.4V420.0h-4.4Z M1191.05 411.0h1.5V449.0h-1.5Z M1189.60 420.0h4.4V443.0h-4.4Z M1222.25 314.0h1.5V346.0h-1.5Z M1220.80 330.0h4.4V341.0h-4.4Z M1232.65 306.0h1.5V340.0h-1.5Z M1231.20 321.0h4.4V326.0h-4.4Z M1248.25 277.0h1.5V350.0h-1.5Z M1246.80 304.0h4.4V341.0h-4.4Z M1274.25 241.0h1.5V289.0h-1.5Z M1272.80 256.0h4.4V281.0h-4.4Z M1284.65 270.0h1.5V306.0h-1.5Z M1283.20 276.0h4.4V306.0h-4.4Z M1295.05 240.0h1.5V281.0h-1.5Z M1293.60 267.0h4.4V270.0h-4.4Z M1310.65 219.0h1.5V259.0h-1.5Z M1309.20 227.0h4.4V246.0h-4.4Z M1315.85 237.0h1.5V260.0h-1.5Z M1314.40 246.0h4.4V260.0h-4.4Z M1321.05 246.0h1.5V281.0h-1.5Z M1319.60 259.0h4.4V263.0h-4.4Z M1331.45 227.0h1.5V251.0h-1.5Z M1330.00 247.0h4.4V251.0h-4.4Z M1341.85 244.0h1.5V273.0h-1.5Z M1340.40 244.0h4.4V259.0h-4.4Z M1357.45 151.0h1.5V186.0h-1.5Z M1356.00 167.0h4.4V177.0h-4.4Z M1378.25 129.0h1.5V159.0h-1.5Z M1376.80 131.0h4.4V159.0h-4.4Z M1388.65 153.0h1.5V184.0h-1.5Z M1387.20 160.0h4.4V180.0h-4.4Z M1399.05 149.0h1.5V197.0h-1.5Z M1397.60 170.0h4.4V196.0h-4.4Z M1409.45 147.0h1.5V243.0h-1.5Z M1408.00 154.0h4.4V226.0h-4.4Z M1414.65 214.0h1.5V314.0h-1.5Z M1413.20 226.0h4.4V276.0h-4.4Z M1419.85 244.0h1.5V297.0h-1.5Z M1418.40 272.0h4.4V275.0h-4.4Z M1430.25 250.0h1.5V287.0h-1.5Z M1428.80 259.0h4.4V283.0h-4.4Z M1435.45 276.0h1.5V351.0h-1.5Z M1434.00 286.0h4.4V323.0h-4.4Z M1456.25 274.0h1.5V306.0h-1.5Z M1454.80 280.0h4.4V283.0h-4.4Z M1466.65 243.0h1.5V290.0h-1.5Z M1465.20 250.0h4.4V290.0h-4.4Z M1477.05 274.0h1.5V320.0h-1.5Z M1475.60 281.0h4.4V309.0h-4.4Z M1497.85 179.0h1.5V204.0h-1.5Z M1496.40 197.0h4.4V203.0h-4.4Z M1503.05 190.0h1.5V217.0h-1.5Z M1501.60 203.0h4.4V211.0h-4.4Z M1508.25 203.0h1.5V224.0h-1.5Z M1506.80 211.0h4.4V217.0h-4.4Z M1518.65 164.0h1.5V240.0h-1.5Z M1517.20 177.0h4.4V240.0h-4.4Z M1549.85 191.0h1.5V214.0h-1.5Z M1548.40 191.5h4.4V201.0h-4.4Z M1555.05 181.0h1.5V223.0h-1.5Z M1553.60 199.0h4.4V221.0h-4.4Z M1575.85 170.0h1.5V204.0h-1.5Z M1574.40 187.0h4.4V190.0h-4.4Z M1586.25 186.0h1.5V220.0h-1.5Z M1584.80 187.0h4.4V220.0h-4.4Z M1591.45 207.0h1.5V237.0h-1.5Z M1590.00 220.0h4.4V227.0h-4.4Z M1596.65 224.0h1.5V247.0h-1.5Z M1595.20 227.0h4.4V246.0h-4.4Z M1601.85 244.0h1.5V293.0h-1.5Z M1600.40 247.0h4.4V270.0h-4.4Z M1617.45 217.0h1.5V246.0h-1.5Z M1616.00 234.0h4.4V237.0h-4.4Z M1638.25 229.0h1.5V261.0h-1.5Z M1636.80 229.0h4.4V246.0h-4.4Z M1643.45 244.0h1.5V290.0h-1.5Z M1642.00 246.0h4.4V290.0h-4.4Z M1648.65 276.0h1.5V340.0h-1.5Z M1647.20 290.0h4.4V329.0h-4.4Z M1659.05 311.0h1.5V357.0h-1.5Z M1657.60 311.0h4.4V326.0h-4.4Z M1674.65 280.0h1.5V303.0h-1.5Z M1673.20 297.0h4.4V300.0h-4.4Z M1679.85 301.0h1.5V323.0h-1.5Z M1678.40 301.0h4.4V319.0h-4.4Z M1685.05 308.0h1.5V341.0h-1.5Z M1683.60 318.0h4.4V320.0h-4.4Z M1700.65 242.0h1.5V277.0h-1.5Z M1699.20 260.0h4.4V267.0h-4.4Z M1705.85 263.0h1.5V312.0h-1.5Z M1704.40 267.0h4.4V309.0h-4.4Z M1711.05 309.0h1.5V394.0h-1.5Z M1709.60 309.0h4.4V379.0h-4.4Z M1716.25 363.0h1.5V398.0h-1.5Z M1714.80 378.0h4.4V380.0h-4.4Z M1726.65 353.0h1.5V381.0h-1.5Z M1725.20 377.0h4.4V379.0h-4.4Z M1731.85 376.0h1.5V424.0h-1.5Z M1730.40 379.0h4.4V412.0h-4.4Z M1742.25 363.0h1.5V404.0h-1.5Z M1740.80 378.0h4.4V402.0h-4.4Z M1757.85 337.0h1.5V367.0h-1.5Z M1756.40 341.0h4.4V363.0h-4.4Z" fill="#5e34a6"/>
<path d="M0.25 852.0h1.5V880.0h-1.5Z M-1.20 868.0h4.4V880.0h-4.4Z M10.65 743.0h1.5V915.0h-1.5Z M9.20 779.0h4.4V908.0h-4.4Z M15.85 737.5h1.5V795.0h-1.5Z M14.40 778.0h4.4V781.0h-4.4Z M36.65 859.0h1.5V888.0h-1.5Z M35.20 862.0h4.4V885.0h-4.4Z M47.05 850.0h1.5V877.0h-1.5Z M45.60 857.0h4.4V873.0h-4.4Z M52.25 852.0h1.5V873.0h-1.5Z M50.80 854.0h4.4V857.0h-4.4Z M88.65 884.0h1.5V904.0h-1.5Z M87.20 888.0h4.4V903.0h-4.4Z M93.85 872.0h1.5V910.0h-1.5Z M92.40 874.0h4.4V888.0h-4.4Z M99.05 872.0h1.5V880.0h-1.5Z M97.60 874.0h4.4V877.0h-4.4Z M114.65 873.0h1.5V888.0h-1.5Z M113.20 873.0h4.4V887.0h-4.4Z M125.05 872.0h1.5V880.0h-1.5Z M123.60 875.0h4.4V877.0h-4.4Z M130.25 872.0h1.5V878.0h-1.5Z M128.80 874.0h4.4V876.0h-4.4Z M135.45 870.0h1.5V877.0h-1.5Z M134.00 872.0h4.4V875.0h-4.4Z M338.25 517.0h1.5V560.0h-1.5Z M336.80 530.0h4.4V560.0h-4.4Z M343.45 497.0h1.5V543.0h-1.5Z M342.00 525.0h4.4V529.0h-4.4Z M348.65 482.0h1.5V535.0h-1.5Z M347.20 500.0h4.4V525.0h-4.4Z M359.05 514.0h1.5V543.0h-1.5Z M357.60 522.0h4.4V531.0h-4.4Z M364.25 503.0h1.5V541.0h-1.5Z M362.80 513.0h4.4V522.0h-4.4Z M379.85 514.0h1.5V543.0h-1.5Z M378.40 525.0h4.4V534.0h-4.4Z M405.85 550.0h1.5V595.0h-1.5Z M404.40 554.0h4.4V575.0h-4.4Z M416.25 526.0h1.5V582.0h-1.5Z M414.80 539.0h4.4V578.0h-4.4Z M421.45 473.0h1.5V540.0h-1.5Z M420.00 485.0h4.4V540.0h-4.4Z M431.85 470.0h1.5V527.0h-1.5Z M430.40 488.0h4.4V492.0h-4.4Z M447.45 487.0h1.5V514.0h-1.5Z M446.00 497.0h4.4V506.0h-4.4Z M457.85 487.0h1.5V516.0h-1.5Z M456.40 507.0h4.4V516.0h-4.4Z M463.05 482.0h1.5V511.0h-1.5Z M461.60 504.0h4.4V507.0h-4.4Z M468.25 481.0h1.5V506.0h-1.5Z M466.80 490.0h4.4V506.0h-4.4Z M483.85 508.0h1.5V538.0h-1.5Z M482.40 513.0h4.4V529.0h-4.4Z M494.25 503.0h1.5V525.0h-1.5Z M492.80 510.0h4.4V519.0h-4.4Z M499.45 494.0h1.5V514.0h-1.5Z M498.00 506.0h4.4V511.0h-4.4Z M504.65 448.0h1.5V506.0h-1.5Z M503.20 465.0h4.4V506.0h-4.4Z M509.85 448.0h1.5V475.0h-1.5Z M508.40 458.0h4.4V466.0h-4.4Z M520.25 457.0h1.5V476.0h-1.5Z M518.80 467.0h4.4V474.0h-4.4Z M535.85 504.0h1.5V535.0h-1.5Z M534.40 510.0h4.4V513.0h-4.4Z M541.05 486.0h1.5V511.0h-1.5Z M539.60 492.0h4.4V511.0h-4.4Z M546.25 481.0h1.5V501.0h-1.5Z M544.80 489.0h4.4V492.0h-4.4Z M551.45 465.0h1.5V490.0h-1.5Z M550.00 467.0h4.4V490.0h-4.4Z M561.85 443.0h1.5V516.0h-1.5Z M560.40 445.0h4.4V491.0h-4.4Z M587.85 453.0h1.5V480.0h-1.5Z M586.40 457.0h4.4V474.0h-4.4Z M593.05 427.0h1.5V462.0h-1.5Z M591.60 444.0h4.4V458.0h-4.4Z M598.25 399.0h1.5V458.0h-1.5Z M596.80 402.0h4.4V444.0h-4.4Z M603.45 385.0h1.5V417.0h-1.5Z M602.00 399.0h4.4V403.0h-4.4Z M613.85 371.0h1.5V413.0h-1.5Z M612.40 376.0h4.4V406.0h-4.4Z M639.85 373.0h1.5V414.0h-1.5Z M638.40 395.0h4.4V397.0h-4.4Z M645.05 376.0h1.5V396.0h-1.5Z M643.60 389.0h4.4V396.0h-4.4Z M660.65 388.0h1.5V413.0h-1.5Z M659.20 391.0h4.4V403.0h-4.4Z M665.85 354.0h1.5V391.0h-1.5Z M664.40 361.0h4.4V391.0h-4.4Z M671.05 332.0h1.5V371.0h-1.5Z M669.60 333.0h4.4V363.0h-4.4Z M676.25 282.0h1.5V338.0h-1.5Z M674.80 305.0h4.4V333.0h-4.4Z M681.45 267.0h1.5V309.0h-1.5Z M680.00 280.0h4.4V306.0h-4.4Z M697.05 265.0h1.5V302.0h-1.5Z M695.60 265.0h4.4V295.0h-4.4Z M707.45 236.0h1.5V270.0h-1.5Z M706.00 248.0h4.4V270.0h-4.4Z M717.85 250.0h1.5V287.0h-1.5Z M716.40 260.0h4.4V278.0h-4.4Z M728.25 223.0h1.5V278.0h-1.5Z M726.80 237.0h4.4V274.0h-4.4Z M738.65 210.0h1.5V246.0h-1.5Z M737.20 218.0h4.4V238.0h-4.4Z M754.25 258.0h1.5V297.0h-1.5Z M752.80 259.0h4.4V279.0h-4.4Z M769.85 334.0h1.5V395.0h-1.5Z M768.40 342.0h4.4V350.0h-4.4Z M775.05 304.0h1.5V350.0h-1.5Z M773.60 327.0h4.4V342.0h-4.4Z M795.85 447.0h1.5V549.0h-1.5Z M794.40 474.0h4.4V531.0h-4.4Z M806.25 466.0h1.5V563.0h-1.5Z M804.80 466.0h4.4V557.0h-4.4Z M811.45 410.0h1.5V517.0h-1.5Z M810.00 413.0h4.4V467.0h-4.4Z M821.85 399.0h1.5V441.0h-1.5Z M820.40 427.0h4.4V434.0h-4.4Z M837.45 443.0h1.5V489.0h-1.5Z M836.00 443.0h4.4V464.0h-4.4Z M842.65 413.0h1.5V447.0h-1.5Z M841.20 429.0h4.4V443.0h-4.4Z M847.85 419.0h1.5V447.0h-1.5Z M846.40 423.0h4.4V429.0h-4.4Z M858.25 379.0h1.5V430.0h-1.5Z M856.80 413.0h4.4V424.0h-4.4Z M873.85 494.0h1.5V544.0h-1.5Z M872.40 507.0h4.4V514.0h-4.4Z M884.25 520.0h1.5V573.0h-1.5Z M882.80 531.0h4.4V571.0h-4.4Z M889.45 491.0h1.5V546.0h-1.5Z M888.00 500.0h4.4V531.0h-4.4Z M905.05 489.0h1.5V537.0h-1.5Z M903.60 506.0h4.4V534.0h-4.4Z M915.45 500.0h1.5V537.0h-1.5Z M914.00 517.0h4.4V520.0h-4.4Z M925.85 501.0h1.5V534.0h-1.5Z M924.40 504.0h4.4V529.0h-4.4Z M946.65 556.0h1.5V586.0h-1.5Z M945.20 561.0h4.4V586.0h-4.4Z M957.05 583.0h1.5V623.0h-1.5Z M955.60 584.0h4.4V611.0h-4.4Z M962.25 544.0h1.5V591.0h-1.5Z M960.80 564.0h4.4V584.0h-4.4Z M967.45 521.0h1.5V567.0h-1.5Z M966.00 534.0h4.4V564.0h-4.4Z M977.85 490.0h1.5V530.0h-1.5Z M976.40 493.0h4.4V530.0h-4.4Z M983.05 452.0h1.5V503.0h-1.5Z M981.60 456.0h4.4V494.0h-4.4Z M993.45 440.0h1.5V490.0h-1.5Z M992.00 444.0h4.4V481.0h-4.4Z M1009.05 454.0h1.5V482.0h-1.5Z M1007.60 466.0h4.4V481.0h-4.4Z M1024.65 476.0h1.5V514.0h-1.5Z M1023.20 477.0h4.4V504.0h-4.4Z M1029.85 464.0h1.5V486.0h-1.5Z M1028.40 470.0h4.4V478.0h-4.4Z M1035.05 437.0h1.5V471.0h-1.5Z M1033.60 441.0h4.4V471.0h-4.4Z M1040.25 387.0h1.5V441.0h-1.5Z M1038.80 389.0h4.4V441.0h-4.4Z M1050.65 392.0h1.5V429.0h-1.5Z M1049.20 413.0h4.4V416.0h-4.4Z M1066.25 440.0h1.5V461.0h-1.5Z M1064.80 444.0h4.4V448.0h-4.4Z M1076.65 419.0h1.5V469.0h-1.5Z M1075.20 452.0h4.4V455.0h-4.4Z M1087.05 471.0h1.5V503.0h-1.5Z M1085.60 480.0h4.4V490.0h-4.4Z M1097.45 503.0h1.5V529.0h-1.5Z M1096.00 507.0h4.4V509.0h-4.4Z M1102.65 503.0h1.5V533.0h-1.5Z M1101.20 503.0h4.4V507.0h-4.4Z M1107.85 470.0h1.5V517.0h-1.5Z M1106.40 494.0h4.4V503.0h-4.4Z M1113.05 451.0h1.5V520.0h-1.5Z M1111.60 452.0h4.4V494.0h-4.4Z M1128.65 460.0h1.5V487.0h-1.5Z M1127.20 470.0h4.4V473.0h-4.4Z M1144.25 471.0h1.5V513.0h-1.5Z M1142.80 478.0h4.4V512.0h-4.4Z M1149.45 457.0h1.5V481.0h-1.5Z M1148.00 466.0h4.4V479.0h-4.4Z M1154.65 438.0h1.5V466.0h-1.5Z M1153.20 447.0h4.4V466.0h-4.4Z M1159.85 430.0h1.5V459.0h-1.5Z M1158.40 433.0h4.4V447.0h-4.4Z M1165.05 403.0h1.5V433.0h-1.5Z M1163.60 416.0h4.4V433.0h-4.4Z M1180.65 397.0h1.5V443.0h-1.5Z M1179.20 411.0h4.4V426.0h-4.4Z M1196.25 419.0h1.5V454.0h-1.5Z M1194.80 420.0h4.4V444.0h-4.4Z M1201.45 401.0h1.5V431.0h-1.5Z M1200.00 404.0h4.4V421.0h-4.4Z M1206.65 394.0h1.5V420.0h-1.5Z M1205.20 399.0h4.4V406.0h-4.4Z M1211.85 369.0h1.5V400.0h-1.5Z M1210.40 369.0h4.4V399.0h-4.4Z M1217.05 323.0h1.5V384.0h-1.5Z M1215.60 330.0h4.4V370.0h-4.4Z M1227.45 319.0h1.5V347.0h-1.5Z M1226.00 320.0h4.4V341.0h-4.4Z M1237.85 317.0h1.5V337.0h-1.5Z M1236.40 324.0h4.4V327.0h-4.4Z M1243.05 303.0h1.5V333.0h-1.5Z M1241.60 304.0h4.4V326.0h-4.4Z M1253.45 316.0h1.5V356.0h-1.5Z M1252.00 321.0h4.4V341.0h-4.4Z M1258.65 286.0h1.5V326.0h-1.5Z M1257.20 304.0h4.4V323.0h-4.4Z M1263.85 257.0h1.5V304.0h-1.5Z M1262.40 261.0h4.4V304.0h-4.4Z M1269.05 236.0h1.5V270.0h-1.5Z M1267.60 256.0h4.4V264.0h-4.4Z M1279.45 259.0h1.5V297.0h-1.5Z M1278.00 276.0h4.4V281.0h-4.4Z M1289.85 266.0h1.5V323.0h-1.5Z M1288.40 267.0h4.4V306.0h-4.4Z M1300.25 226.0h1.5V269.0h-1.5Z M1298.80 251.0h4.4V269.0h-4.4Z M1305.45 216.0h1.5V260.0h-1.5Z M1304.00 227.0h4.4V251.0h-4.4Z M1326.25 246.0h1.5V301.0h-1.5Z M1324.80 247.0h4.4V261.0h-4.4Z M1336.65 236.0h1.5V270.0h-1.5Z M1335.20 244.0h4.4V251.0h-4.4Z M1347.05 237.0h1.5V269.0h-1.5Z M1345.60 239.0h4.4V259.0h-4.4Z M1352.25 157.0h1.5V246.0h-1.5Z M1350.80 167.0h4.4V240.0h-4.4Z M1362.65 140.0h1.5V180.0h-1.5Z M1361.20 143.0h4.4V177.0h-4.4Z M1367.85 116.0h1.5V153.0h-1.5Z M1366.40 139.0h4.4V143.0h-4.4Z M1373.05 123.0h1.5V147.0h-1.5Z M1371.60 131.0h4.4V139.0h-4.4Z M1383.45 137.0h1.5V186.0h-1.5Z M1382.00 157.0h4.4V160.0h-4.4Z M1393.85 157.0h1.5V190.0h-1.5Z M1392.40 170.0h4.4V180.0h-4.4Z M1404.25 153.0h1.5V203.0h-1.5Z M1402.80 154.0h4.4V197.0h-4.4Z M1425.05 256.0h1.5V290.0h-1.5Z M1423.60 259.0h4.4V274.0h-4.4Z M1440.65 290.0h1.5V341.0h-1.5Z M1439.20 296.0h4.4V323.0h-4.4Z M1445.85 264.0h1.5V300.0h-1.5Z M1444.40 290.0h4.4V297.0h-4.4Z M1451.05 277.0h1.5V313.0h-1.5Z M1449.60 280.0h4.4V290.0h-4.4Z M1461.45 249.0h1.5V283.0h-1.5Z M1460.00 250.0h4.4V283.0h-4.4Z M1471.85 267.0h1.5V297.0h-1.5Z M1470.40 281.0h4.4V290.0h-4.4Z M1482.25 291.0h1.5V326.0h-1.5Z M1480.80 304.0h4.4V307.0h-4.4Z M1487.45 216.0h1.5V309.0h-1.5Z M1486.00 226.0h4.4V306.0h-4.4Z M1492.65 194.0h1.5V231.0h-1.5Z M1491.20 197.0h4.4V226.0h-4.4Z M1513.45 176.0h1.5V217.0h-1.5Z M1512.00 177.0h4.4V217.0h-4.4Z M1523.85 221.0h1.5V249.0h-1.5Z M1522.40 233.0h4.4V241.0h-4.4Z M1529.05 224.0h1.5V269.0h-1.5Z M1527.60 229.0h4.4V233.0h-4.4Z M1534.25 210.0h1.5V234.0h-1.5Z M1532.80 230.0h4.4V233.5h-4.4Z M1539.45 197.0h1.5V231.0h-1.5Z M1538.00 200.0h4.4V230.0h-4.4Z M1544.65 187.0h1.5V226.0h-1.5Z M1543.20 196.0h4.4V200.0h-4.4Z M1560.25 197.0h1.5V227.0h-1.5Z M1558.80 211.0h4.4V223.0h-4.4Z M1565.45 206.0h1.5V221.0h-1.5Z M1564.00 209.0h4.4V211.0h-4.4Z M1570.65 186.0h1.5V210.0h-1.5Z M1569.20 187.0h4.4V209.0h-4.4Z M1581.05 181.0h1.5V196.0h-1.5Z M1579.60 187.0h4.4V190.0h-4.4Z M1607.05 233.0h1.5V280.0h-1.5Z M1605.60 244.0h4.4V270.0h-4.4Z M1612.25 231.0h1.5V253.0h-1.5Z M1610.80 234.0h4.4V246.0h-4.4Z M1622.65 230.0h1.5V269.0h-1.5Z M1621.20 233.0h4.4V237.0h-4.4Z M1627.85 223.0h1.5V240.0h-1.5Z M1626.40 233.0h4.4V236.0h-4.4Z M1633.05 210.0h1.5V233.0h-1.5Z M1631.60 229.0h4.4V231.0h-4.4Z M1653.85 294.0h1.5V337.0h-1.5Z M1652.40 311.0h4.4V329.0h-4.4Z M1664.25 309.0h1.5V334.0h-1.5Z M1662.80 320.0h4.4V324.0h-4.4Z M1669.45 290.0h1.5V326.0h-1.5Z M1668.00 297.0h4.4V324.0h-4.4Z M1690.25 286.0h1.5V338.0h-1.5Z M1688.80 289.0h4.4V319.0h-4.4Z M1695.45 259.0h1.5V290.0h-1.5Z M1694.00 260.0h4.4V289.0h-4.4Z M1721.45 351.0h1.5V387.0h-1.5Z M1720.00 377.0h4.4V380.0h-4.4Z M1737.05 369.0h1.5V421.0h-1.5Z M1735.60 379.0h4.4V412.0h-4.4Z M1747.45 366.0h1.5V403.0h-1.5Z M1746.00 372.0h4.4V402.0h-4.4Z M1752.65 341.0h1.5V378.0h-1.5Z M1751.20 341.0h4.4V372.0h-4.4Z M1763.05 340.0h1.5V368.0h-1.5Z M1761.60 348.0h4.4V363.0h-4.4Z" fill="#2282d2"/>
<circle cx="775" cy="958.7" r="22" fill="#1d2029"/>
<circle cx="830.5" cy="958.7" r="22" fill="#1d2029"/>
<circle cx="909.5" cy="958.7" r="22" fill="#1763b8"/>
<circle cx="987.5" cy="958.7" r="22" fill="#1d2029"/>
<circle cx="1044" cy="958.7" r="22" fill="#1d2029"/>
<circle cx="1122" cy="958.7" r="22" fill="#1d2029"/>
<path d="M148 72 C185 72 210 92 210 116 C210 140 192 154 173 158 C160 161 150 168 143 180 C134 197 128 215 110 215.6 C92 215 82 195 79 170 C77 155 78 140 79 128 C82 95 110 72 148 72 Z" fill="#fff"/>
<rect x="72" y="543" width="330.5" height="330" rx="34" fill="#000"/>
<defs>
<filter id="fb2" x="-20%" y="-20%" width="140%" height="140%"><feGaussianBlur stdDeviation="2.2"/></filter>
<filter id="fb1" x="-20%" y="-20%" width="140%" height="140%"><feGaussianBlur stdDeviation="1"/></filter>
<radialGradient id="gFace" cx="0.5" cy="0.3" r="0.75">
<stop offset="0" stop-color="#f0c2a0"/><stop offset="0.5" stop-color="#e2ab84"/><stop offset="1" stop-color="#b98462"/>
</radialGradient>
<radialGradient id="gHair" cx="0.5" cy="0.35" r="0.65">
<stop offset="0" stop-color="#c29672"/><stop offset="0.75" stop-color="#b28561"/><stop offset="1" stop-color="#936546"/>
</radialGradient>
<linearGradient id="gHairL" x1="0" y1="0" x2="1" y2="1">
<stop offset="0" stop-color="#b58963"/><stop offset="0.6" stop-color="#b08460"/><stop offset="1" stop-color="#8f6242"/>
</linearGradient>
<linearGradient id="gHairR" x1="0" y1="0" x2="1" y2="0">
<stop offset="0" stop-color="#bb8f6b"/><stop offset="0.6" stop-color="#b08461"/><stop offset="1" stop-color="#946646"/>
</linearGradient>
<radialGradient id="gHairC" cx="0.5" cy="0.6" r="0.6">
<stop offset="0" stop-color="#ba8e6a"/><stop offset="0.7" stop-color="#b3865f"/><stop offset="1" stop-color="#976948"/>
</radialGradient>
<radialGradient id="gHand" cx="0.6" cy="0.45" r="0.6">
<stop offset="0" stop-color="#efc29f"/><stop offset="0.7" stop-color="#e2ae88"/><stop offset="1" stop-color="#c7936e"/>
</radialGradient>
<radialGradient id="gIris" cx="0.5" cy="0.55" r="0.5"><stop offset="0" stop-color="#1a1a1c"/><stop offset="0.45" stop-color="#3b3d41"/><stop offset="0.62" stop-color="#55606a"/><stop offset="0.75" stop-color="#5f8fa6"/><stop offset="0.9" stop-color="#4f7f97"/><stop offset="1" stop-color="#2b5266"/></radialGradient>
<clipPath id="cEyeL"><path d="M152 724 C155 712 165 705 176 705 C187 705 194 711 197 718 L197 729 C185 734 165 735 152 724 Z"/></clipPath>
<clipPath id="cEyeR"><path d="M230.5 720.5 C233 706 243 694.5 254 694 C265 694 273 700 276 709 C268 718 250 724 230.5 720.5 Z"/></clipPath>
</defs>
<!-- ears -->
<path d="M303 694 C312 686 326 688 327 708 C328 728 322 744 312 748 C305 750 302 740 301 730 Z" fill="#dba782"/>
<path d="M128 710 C118 712 118 732 124 748 C129 762 137 770 143 772 Z" fill="#d5a17d"/>
<!-- face -->
<path d="M136 656 C150 628 200 622 240 622 C282 622 300 645 305 695 C308 730 302 768 285 795 C268 818 245 828 222 829 C196 828 170 814 152 790 C136 768 124 740 124 716 C124 694 128 672 137 660 Z" fill="url(#gFace)"/>
<!-- beard shading -->
<path d="M168 768 C185 764 200 763 215 762 C240 760 262 756 290 758 C287 784 272 808 242 825 C226 830 206 829 190 821 C176 812 168 796 166 780 Z" fill="#9d7560" opacity="0.32" filter="url(#fb2)"/>
<path d="M124 716 C126 740 136 766 152 790 C142 770 136 745 136 720 Z" fill="#c58c67" opacity="0.5" filter="url(#fb2)"/>
<!-- hair back silhouette -->
<path d="M134.6 706 C124 690 114 665 113.5 640 C113 624 117 612 122 606 L128 609 C140 592 160 573 184.6 558.5 L190 568 C197 561 206 555 215 550 C221 555 228 560 235 563.5 C248 572 258 580 266.5 581.7 C282 596 297 616 303 637 C306 660 308 675 308 690 L293 686 C290 664 283 646 272 632 C255 628 230 629 205 633 C180 637 158 641 145 647 C139 656 137 664 137 670 C137 684 136 696 134.6 706 Z" fill="#7b5132"/>
<!-- left side spike -->
<path d="M134.6 705 C125 690 116 665 114.5 640 C114 625 117 613 122 607 C128 618 134 632 139 641 C142 645 144 646 145.5 647 C140 655 138 662 137.5 668 C137 682 136 694 134.6 705 Z" fill="url(#gHairL)"/>
<!-- far right tuft -->
<path d="M266.5 582 C280 597 295 615 302 637 C305.5 658 307 675 307.5 688 L293.5 685.5 C291 665 285 648 273 631 C271 620 270 612 269.5 605 C269 596 268 588 266.5 582 Z" fill="url(#gHairR)"/>
<!-- right tuft -->
<path d="M235 563.5 C247 575 259 588 265 600 C269 610 270 618 267.5 628.5 C258 630 246 630 238 629 C241 605 239 585 235 563.5 Z" fill="url(#gHairR)" stroke="#7b5132" stroke-width="0.8"/>
<!-- left big tuft -->
<path d="M128.7 609.5 C141 591 161 573 184.6 558.5 C190 569 190 582 186 597 C176 611 171 622 172.5 634 C166 642 155 647 146 647.5 C139 636 132 622 128.7 609.5 Z" fill="url(#gHairL)" stroke="#7b5132" stroke-width="0.8"/>
<!-- center tuft -->
<path d="M181 636.5 C172 634 168 625 169.5 612.7 C172 595 190 575 215 550.5 C226 561 237 585 240.5 616 C241 625 237 630 230 631 C215 633 195 636 181 636.5 Z" fill="url(#gHairC)" stroke="#7b5132" stroke-width="0.9"/>
<!-- eyebrows -->
<path d="M146 699 C150 688 164 681 177 681.5 C185 682 187 688 184 692 C174 692 160 695 151 702 C148 703 145 702 146 699 Z" fill="#5f412f"/>
<path d="M225 683 C226 674 240 670 254 670.5 C264 671 272 675 273 680 C272 682 270 682 268 681.5 C256 678 242 679 230 686 C227 687 225 686 225 683 Z" fill="#5f412f"/>
<!-- lens tint -->
<path d="M135.5 710 L193.5 704 L195 736 L140.5 740.5 Z" fill="#f3cdb0" opacity="0.45"/>
<path d="M224 700 L282 690.5 L284 721.5 L230 730 Z" fill="#f3cdb0" opacity="0.45"/>
<!-- eyes -->
<g clip-path="url(#cEyeL)"><rect x="145" y="700" width="60" height="40" fill="#eff0f2"/><circle cx="175.5" cy="721" r="13.8" fill="url(#gIris)"/><circle cx="169" cy="717.5" r="3" fill="#fff"/></g>
<path d="M152 724 C155 712 165 705 176 705 C187 705 194 711 197 718" fill="none" stroke="#5a3a2a" stroke-width="1.2" opacity="0.6"/>
<g clip-path="url(#cEyeR)"><rect x="225" y="688" width="60" height="40" fill="#eff0f2"/><circle cx="252.5" cy="709.5" r="13.8" fill="url(#gIris)"/><circle cx="246" cy="706.5" r="3" fill="#fff"/></g>
<path d="M230.5 720.5 C233 706 243 694.5 254 694 C265 694 273 700 276 709" fill="none" stroke="#5a3a2a" stroke-width="1.2" opacity="0.6"/>
<!-- glasses -->
<path fill-rule="evenodd" fill="#0c0c0d" stroke="#0c0c0d" stroke-width="3" stroke-linejoin="round" d="M125.5 707.5 L200.5 699.5 L200 742 L137.5 746.5 Z M135.5 710.5 L193 704.5 L194.8 735.8 L140.6 740 Z"/>
<path fill-rule="evenodd" fill="#0c0c0d" stroke="#0c0c0d" stroke-width="3" stroke-linejoin="round" d="M220.5 694 L292.5 686 L289 723 L229 737.5 Z M223.8 700 L281.8 690.5 L283.8 721.2 L230 729.8 Z"/>
<path d="M196 699.5 L222 695.5 L222 713 L197 713.5 Z" fill="#0c0c0d"/>
<!-- nose -->
<ellipse cx="215" cy="752" rx="18" ry="11.5" fill="#c98f69"/>
<ellipse cx="214.5" cy="749" rx="14" ry="8.5" fill="#e2ad87"/>
<!-- mouth -->
<path d="M187 775 C210 774 238 769 258 763 C256 777 244 789 224 789.5 C208 790 194 785 187 775 Z" fill="#6a3334"/>
<path d="M188 775.5 C210 774.5 238 769.5 257 764 C254 770.5 250 774.5 245 777 C228 781.5 206 783 193 780.5 Z" fill="#e2e2e2"/>
<path d="M200 786 C212 780.5 232 779 246 777.5 C240 785 229 789 219 789.5 C210 789.5 204 788 200 786 Z" fill="#b56e70"/>
<path d="M184.5 775 C208 773 236 768 259 762" fill="none" stroke="#9c6048" stroke-width="1.8"/>
<path d="M196 790 C210 796 236 795 250 782" fill="none" stroke="#c9906e" stroke-width="2" opacity="0.7"/>
<!-- hand -->
<path d="M355 731 C364 730.5 371 735 370.5 742 C369 749 366 755 364.5 762 C363.5 769 364 774 365 777.4 C372 784 378 795 383 808.5 C385 818 385 825 383 828 C380 840 375 848 368 851 C356 858 345 861 330 862.5 C315 863 302 861 296 858.5 C290 855 288 852 289 851 C286 847 286 844 289.5 843 C285 836 284 830 284.5 826.5 C286 822 287 821 288 820 C283 815 282 808 284.5 802 C286 799 289 798 291 797 C287 794 286 790 287 789 C288 782 292 778 302.8 776.6 C312 777 320 779 324 780.7 C330 780 333 779 333 777 C336 770 337 760 338 752.8 C338.5 744 343 732 355 731 Z" fill="url(#gHand)"/>
<path d="M291 797 C300 800 310 802 316 803" fill="none" stroke="#b98664" stroke-width="2.5" opacity="0.6" filter="url(#fb1)"/>
<path d="M288 820 C298 822 308 824 315 825" fill="none" stroke="#b98664" stroke-width="2.5" opacity="0.6" filter="url(#fb1)"/>
<path d="M289.5 843 C298 844 306 845 313 845" fill="none" stroke="#b98664" stroke-width="2.5" opacity="0.6" filter="url(#fb1)"/>

</g>
</svg>
<div class="t" style="left:0;top:15px;color:#787b86">close 0</div>
<div class="t" style="left:76px;top:15px;color:#2884ca">31944.7</div>
<div class="t" style="left:0;top:53px;color:#787b86">close 0</div>
<div class="t" style="left:76px;top:53px;color:#5832a4">33021.4</div>
</body></html>
